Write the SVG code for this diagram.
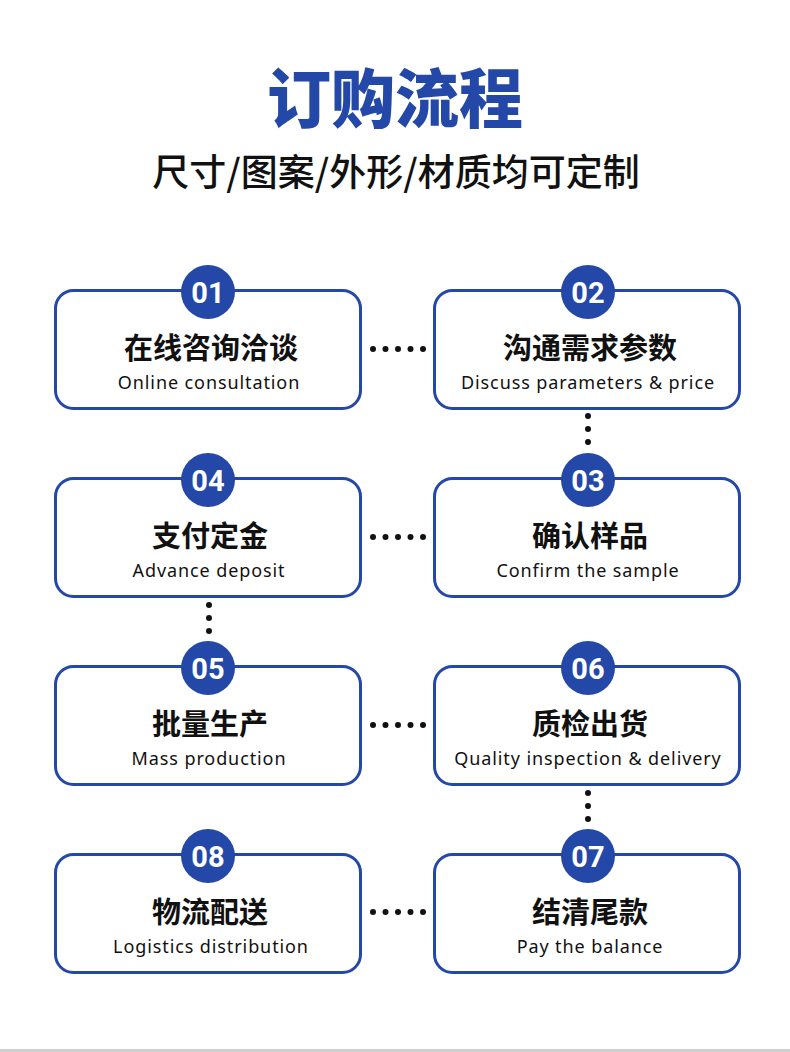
<svg xmlns="http://www.w3.org/2000/svg" width="790" height="1052" viewBox="0 0 790 1052">
<style>
.box{fill:#fff;stroke:#2448a8;stroke-width:3}
.circ{fill:#2448a8}
.num{font-family:"Roboto","Liberation Sans",sans-serif;font-weight:bold;font-size:29px;fill:#fff;text-anchor:middle}
.zh{font-family:"Noto Sans CJK SC",sans-serif;font-weight:bold;font-size:29px;fill:#111;text-anchor:middle}
.en{font-family:"Noto Sans","Open Sans",sans-serif;font-size:18px;fill:#111;text-anchor:middle;letter-spacing:0.9px}
.dot{fill:#111}
</style>
<rect width="790" height="1052" fill="#fff"/>
<rect x="0" y="1049" width="790" height="3" fill="#d0d0d0"/>
<text x="395" y="122" font-family="Noto Sans CJK SC, sans-serif" font-weight="900" font-size="64" fill="#2448a8" text-anchor="middle">订购流程</text>
<text x="396" y="186" font-family="Noto Sans CJK SC, sans-serif" font-weight="500" font-size="37" fill="#111" text-anchor="middle">尺寸/图案/外形/材质均可定制</text>
<g id="connectors">
<circle class="dot" cx="373" cy="349" r="3"/><circle class="dot" cx="385.5" cy="349" r="3"/><circle class="dot" cx="398" cy="349" r="3"/><circle class="dot" cx="410.5" cy="349" r="3"/><circle class="dot" cx="423" cy="349" r="3"/>
<circle class="dot" cx="588" cy="416" r="3"/><circle class="dot" cx="588" cy="429" r="3"/><circle class="dot" cx="588" cy="442" r="3"/>
<circle class="dot" cx="373" cy="537" r="3"/><circle class="dot" cx="385.5" cy="537" r="3"/><circle class="dot" cx="398" cy="537" r="3"/><circle class="dot" cx="410.5" cy="537" r="3"/><circle class="dot" cx="423" cy="537" r="3"/>
<circle class="dot" cx="209" cy="605" r="3"/><circle class="dot" cx="209" cy="618" r="3"/><circle class="dot" cx="209" cy="631" r="3"/>
<circle class="dot" cx="373" cy="725" r="3"/><circle class="dot" cx="385.5" cy="725" r="3"/><circle class="dot" cx="398" cy="725" r="3"/><circle class="dot" cx="410.5" cy="725" r="3"/><circle class="dot" cx="423" cy="725" r="3"/>
<circle class="dot" cx="588" cy="793" r="3"/><circle class="dot" cx="588" cy="806" r="3"/><circle class="dot" cx="588" cy="819" r="3"/>
<circle class="dot" cx="373" cy="912" r="3"/><circle class="dot" cx="385.5" cy="912" r="3"/><circle class="dot" cx="398" cy="912" r="3"/><circle class="dot" cx="410.5" cy="912" r="3"/><circle class="dot" cx="423" cy="912" r="3"/>
</g>
<g id="n01"><rect class="box" x="55.5" y="290.5" width="305" height="118" rx="18"/><circle class="circ" cx="208" cy="292" r="27"/><text class="num" x="208" y="302.5">01</text><text class="zh" x="211" y="359">在线咨询洽谈</text><text class="en" x="209" y="389">Online consultation</text></g>
<g id="n02"><rect class="box" x="434.5" y="290.5" width="305" height="118" rx="18"/><circle class="circ" cx="588" cy="292" r="27"/><text class="num" x="588" y="302.5">02</text><text class="zh" x="590" y="359">沟通需求参数</text><text class="en" x="588" y="389">Discuss parameters &amp; price</text></g>
<g id="n03"><rect class="box" x="434.5" y="478.5" width="305" height="118" rx="18"/><circle class="circ" cx="588" cy="480" r="27"/><text class="num" x="588" y="490.5">03</text><text class="zh" x="590" y="547">确认样品</text><text class="en" x="588" y="577">Confirm the sample</text></g>
<g id="n04"><rect class="box" x="55.5" y="478.5" width="305" height="118" rx="18"/><circle class="circ" cx="208" cy="480" r="27"/><text class="num" x="208" y="490.5">04</text><text class="zh" x="210" y="547">支付定金</text><text class="en" x="209" y="577">Advance deposit</text></g>
<g id="n05"><rect class="box" x="55.5" y="666.5" width="305" height="118" rx="18"/><circle class="circ" cx="208" cy="668" r="27"/><text class="num" x="208" y="678.5">05</text><text class="zh" x="210" y="735">批量生产</text><text class="en" x="209" y="765">Mass production</text></g>
<g id="n06"><rect class="box" x="434.5" y="666.5" width="305" height="118" rx="18"/><circle class="circ" cx="588" cy="668" r="27"/><text class="num" x="588" y="678.5">06</text><text class="zh" x="590" y="735">质检出货</text><text class="en" x="588" y="765">Quality inspection &amp; delivery</text></g>
<g id="n07"><rect class="box" x="434.5" y="854.5" width="305" height="118" rx="18"/><circle class="circ" cx="588" cy="856" r="27"/><text class="num" x="588" y="866.5">07</text><text class="zh" x="590" y="923">结清尾款</text><text class="en" x="590" y="953">Pay the balance</text></g>
<g id="n08"><rect class="box" x="55.5" y="854.5" width="305" height="118" rx="18"/><circle class="circ" cx="208" cy="856" r="27"/><text class="num" x="208" y="866.5">08</text><text class="zh" x="210" y="923">物流配送</text><text class="en" x="211" y="953">Logistics distribution</text></g>
</svg>
